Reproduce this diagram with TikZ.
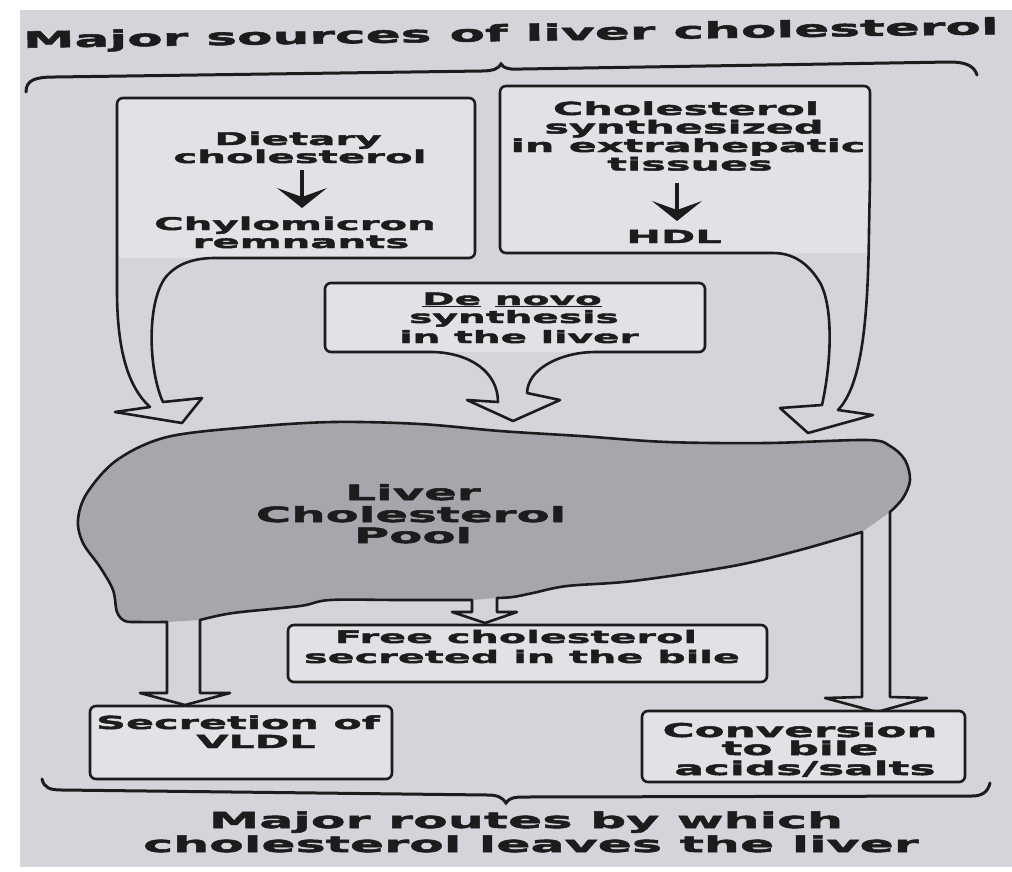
\documentclass[tikz,border=0pt]{standalone}
\usepackage{fontspec}
\newfontfamily\labfont{DejaVu Sans}[FakeStretch=2.3,FakeBold=2.5]
\usetikzlibrary{arrows.meta}
\definecolor{bg}{HTML}{D4D4DA}
\definecolor{boxfill}{HTML}{E1E1E6}
\definecolor{liverfill}{HTML}{A6A6AD}
\definecolor{ink}{HTML}{1C1C1C}
\begin{document}
\begin{tikzpicture}[x=1pt,y=-1pt,
  lab/.style={anchor=base,inner sep=0pt,text=ink,font=\labfont\bfseries\fontsize{#1}{#1}\selectfont},
  outl/.style={draw=ink,line width=2.6pt,line join=round},
  boxbg/.style={fill=boxfill,rounded corners=6pt,inner sep=0pt,draw=none},
  boxfull/.style={fill=boxfill,rounded corners=6pt,inner sep=0pt,draw=ink,line width=2.6pt},
  brace/.style={draw=ink,line width=3pt,line cap=round},
  smallarrow/.style={draw=ink,line width=3.5pt,-{Stealth[length=20pt,width=50pt,inset=9pt]}}]
\useasboundingbox (0,0) rectangle (1012,871);
\fill[white] (0,0) rectangle (1012,871);
\fill[bg] (20,10) rectangle (1012,867);

% title
\node[lab=22.5,rotate=0.8] (title) at (511,41) {Major sources of liver cholesterol};
% top brace
\draw[brace] (26,92) .. controls (26,80) and (35,77) .. (55,77) -- (482,71)
  .. controls (494,71) and (499,68) .. (501,64) .. controls (503,68) and (510,70) .. (522,69)
  -- (950,62) .. controls (964,62) and (974,65) .. (977,75);

% box fills
\node[boxbg,minimum width=358pt,minimum height=160pt] (box1) at (296,178) {};
\node[boxbg,minimum width=370pt,minimum height=167pt] (box2) at (685,169.5) {};
\node[boxbg,minimum width=380pt,minimum height=69pt] (box3) at (515,317.5) {};

% box 1 + left arrow
\draw[outl] (215,258) [rounded corners=6pt] -- (475,258) -- (475,98) -- (117,98) -- (117,200) [sharp corners] -- (117,290)
  .. controls (117,350) and (128,387) .. (150,407) -- (115,412) -- (182,423) -- (202,398) -- (163,402)
  .. controls (149,372) and (146,305) .. (165,278) .. controls (177,263) and (195,258) .. (215,258);
% box 2 + right arrow
\draw[outl] (773,253) [rounded corners=6pt] -- (500,253) -- (500,86) -- (870,86) -- (870,180) [sharp corners] -- (869,230)
  .. controls (868,320) and (862,385) .. (838,410) -- (873,415) -- (808,433) -- (780,408) -- (822,405)
  .. controls (832,360) and (834,300) .. (817,278) .. controls (806,262) and (792,253) .. (773,253);
% de novo box + middle arrow
\draw[outl] (433,352) [rounded corners=6pt] -- (325,352) -- (325,283) -- (705,283) -- (705,352) -- (590,352) [sharp corners]
  .. controls (560,355) and (528,368) .. (527,393) -- (560,400) -- (513,421) -- (467,400) -- (498,402)
  .. controls (498,372) and (470,353) .. (433,352);

% liver
\fill[liverfill] plot[smooth,tension=0.55] coordinates {(200,620) (233,613) (300,606) (330,600) (400,600) (472,600)}
  -- plot[smooth,tension=0.55] coordinates {(497,598) (513,597) (533,593) (567,586) (633,581) (733,566) (800,550) (862,532)}
  -- plot[smooth,tension=0.55] coordinates {(890,512) (903,498) (910,480) (905,460) (890,446) (867,440) (767,443) (667,442) (580,436) (500,431) (420,424) (333,422) (250,427) (167,437) (117,460) (87,493) (78,520) (83,543) (100,567) (113,590) (117,612) (125,621) (140,622) (167,622)}
  -- cycle;
\draw[outl] (200,693) -- plot[smooth,tension=0.55] coordinates {(200,620) (233,613) (300,606) (330,600) (400,600) (472,600)}
  -- (472,612) -- (452,612) -- (485,623) -- (517,612) -- (497,612)
  -- plot[smooth,tension=0.55] coordinates {(497,598) (513,597) (533,593) (567,586) (633,581) (733,566) (800,550) (862,532)}
  -- (862,697) -- (825,698) -- (877,712) -- (927,698) -- (890,697)
  -- plot[smooth,tension=0.55] coordinates {(890,512) (903,498) (910,480) (905,460) (890,446) (867,440) (767,443) (667,442) (580,436) (500,431) (420,424) (333,422) (250,427) (167,437) (117,460) (87,493) (78,520) (83,543) (100,567) (113,590) (117,612) (125,621) (140,622) (167,622)}
  -- (167,693) -- (140,693) -- (185,705) -- (230,693) -- cycle;

% lower boxes
\node[boxfull,minimum width=479pt,minimum height=57pt] (box4) at (527.5,653.5) {};
\node[boxfull,minimum width=302pt,minimum height=73pt] (box5) at (241,742.5) {};
\node[boxfull,minimum width=323pt,minimum height=71pt] (box6) at (803.5,746.5) {};

% bottom brace
\draw[brace] (42,779) .. controls (44,788) and (50,790) .. (62,790) -- (488,795)
  .. controls (498,795) and (503,798) .. (506,803) .. controls (509,798) and (514,797) .. (524,797)
  -- (972,796) .. controls (982,796) and (988,792) .. (990,783);

% texts box 1
\node[lab=17.5] (d1) at (298,145) {Dietary};
\node[lab=17.5] (d2) at (300,163) {cholesterol};
\node[lab=17.5] (d3) at (295,230) {Chylomicron};
\node[lab=17.5] (d4) at (301,248) {remnants};
\coordinate (a1s) at (302,170);
\coordinate (a1e) at (302,208);
\draw[smallarrow] (a1s) -- (a1e);
% texts box 2
\node[lab=18] (c1) at (686,115) {Cholesterol};
\node[lab=18] (c2) at (684,133.5) {synthesized};
\node[lab=18] (c3) at (688,152) {in extrahepatic};
\node[lab=18] (c4) at (690,170.5) {tissues};
\node[lab=18] (c5) at (674,243) {HDL};
\coordinate (a2s) at (677,183);
\coordinate (a2e) at (677,221);
\draw[smallarrow] (a2s) -- (a2e);
% de novo
\node[lab=17] (n1) at (512,305) {\underline{De} \underline{novo}};
\node[lab=17] (n2) at (514,323) {synthesis};
\node[lab=17] (n3) at (519,343) {in the liver};
% liver
\node[lab=21] (l1) at (413,500) {Liver};
\node[lab=21] (l2) at (411,522) {Cholesterol};
\node[lab=21] (l3) at (413,543) {Pool};
% free
\node[lab=17.3] (f1) at (516,643) {Free cholesterol};
\node[lab=17.3] (f2) at (522,663) {secreted in the bile};
% secretion
\node[lab=18] (s1) at (238,729) {Secretion of};
\node[lab=18] (s2) at (256,748) {VLDL};
% conversion
\node[lab=19] (v1) at (800,737) {Conversion};
\node[lab=19] (v2) at (800,755) {to bile};
\node[lab=19] (v3) at (805,775) {acids/salts};
% bottom title
\node[lab=22] (b1) at (526,828) {Major routes by which};
\node[lab=22] (b2) at (531,852) {cholesterol leaves the liver};
\end{tikzpicture}
\end{document}
